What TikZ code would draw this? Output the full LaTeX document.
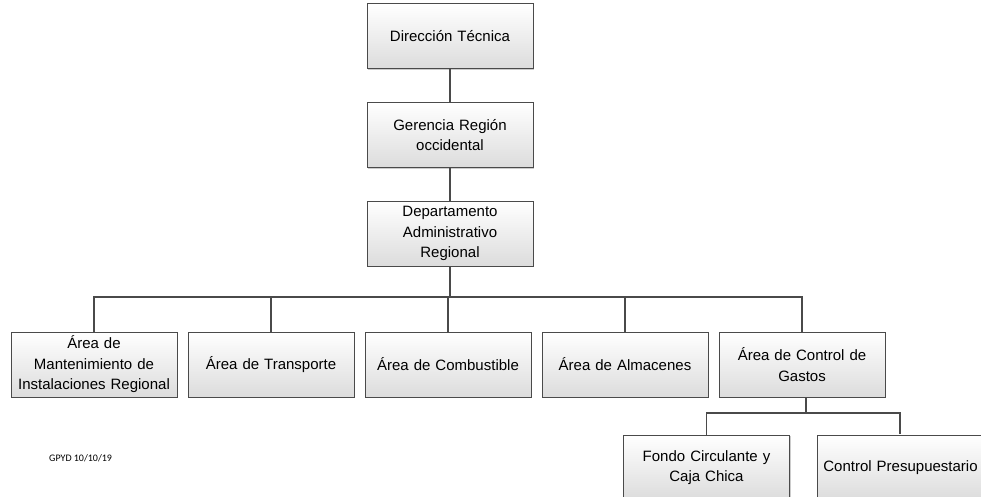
\documentclass[tikz,border=0pt]{standalone}
\usepackage{fontspec}
\setmainfont{Liberation Sans}
\newfontfamily\smallfont{Carlito}
\usetikzlibrary{shadows}
\definecolor{edge}{HTML}{4A4A4A}
\definecolor{boxlow}{HTML}{DCDCDC}
\tikzset{
  orgbox/.style={draw=edge, line width=1pt, top color=white, bottom color=boxlow,
    minimum width=165pt, minimum height=65pt, inner sep=2pt, align=center,
    text width=162pt, font=\fontsize{15pt}{20.5pt}\selectfont,
    drop shadow={shadow xshift=1pt, shadow yshift=-1pt, fill=black, opacity=0.2}},
  link/.style={draw=edge, line width=1.3pt}
}
\begin{document}
\begin{tikzpicture}[x=1pt,y=-1pt]
\clip (0,0) rectangle (981,497);
\fill[white] (0,0) rectangle (981,497);
\node[orgbox] (dt) at (450,36.5) {Dirección Técnica};
\node[orgbox] (gr) at (450,135) {Gerencia Región\\occidental};
\node[orgbox] (da) at (450,233.5) {Departamento\\Administrativo\\Regional};
\node[orgbox] (a1) at (94,364.5) {Área de\\Mantenimiento de\\Instalaciones Regional};
\node[orgbox] (a2) at (271,364.5) {Área de Transporte};
\node[orgbox] (a3) at (448,364.5) {Área de Combustible};
\node[orgbox] (a4) at (625,364.5) {Área de Almacenes};
\node[orgbox] (a5) at (802,364.5) {Área de Control de\\Gastos};
\node[orgbox] (f1) at (706.5,467.5) {Fondo Circulante y\\Caja Chica};
\node[orgbox, minimum width=175pt] (f2) at (904.5,467.5) {\hspace*{-8pt}Control Presupuestario};
\node[font=\smallfont\fontsize{10pt}{12pt}\selectfont, anchor=west, inner sep=0pt] (note) at (49,458) {GPYD 10/10/19};
\coordinate (bus) at (450,297);
\coordinate (bus2) at (806,413);
\coordinate (f2top) at (900,434);
\draw[link] (dt.south) -- (gr.north);
\draw[link] (gr.south) -- (da.north);
\draw[link] (da.south) -- (bus);
\draw[link] (a1.north) |- (bus) -| (a5.north);
\draw[link] (a2.north) -- (a2.north |- bus);
\draw[link] (a3.north) -- (a3.north |- bus);
\draw[link] (a4.north) -- (a4.north |- bus);
\draw[link] (a5.south -| bus2) -- (bus2);
\draw[link] (f1.north) |- (bus2) -| (f2top);
\end{tikzpicture}
\end{document}
